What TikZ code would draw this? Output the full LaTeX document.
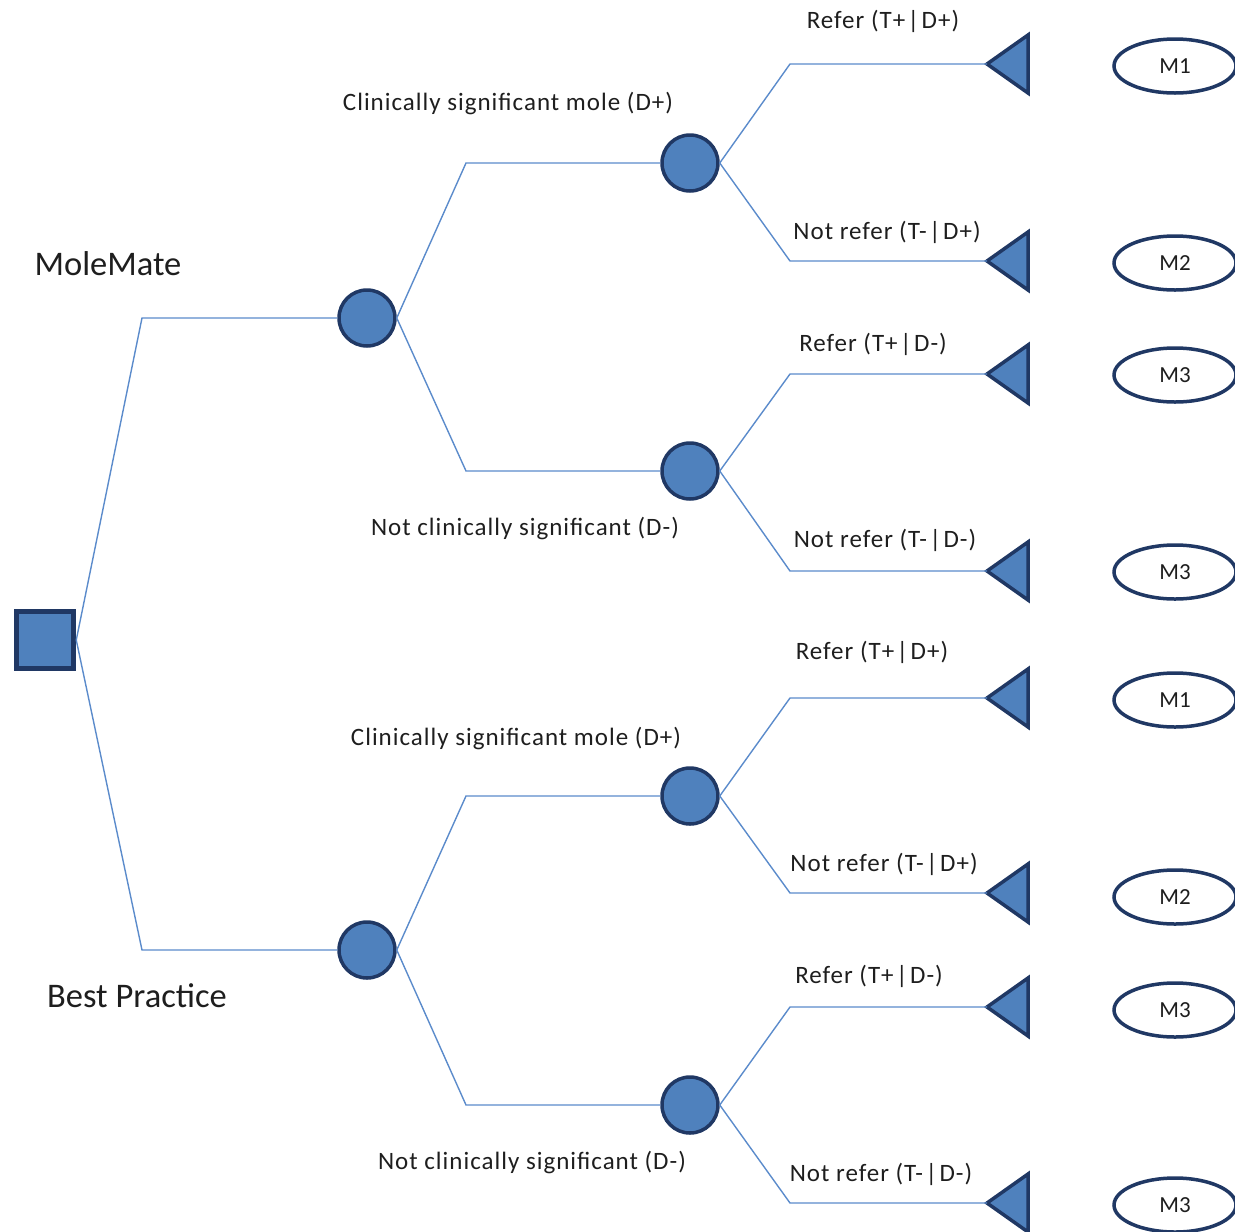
\documentclass[tikz,border=0pt]{standalone}
\usepackage{fontspec}
\setmainfont{Carlito}
\newfontfamily\lblfont[LetterSpace=4]{Carlito}
\usetikzlibrary{shapes.geometric}
\definecolor{fillblue}{HTML}{4F81BD}
\definecolor{darkblue}{HTML}{203864}
\definecolor{lineblue}{HTML}{5B8BCB}
\definecolor{textgray}{HTML}{1E1E1E}
\newcommand{\vsep}{\kern2.5pt|\kern2.5pt}
\begin{document}
\begin{tikzpicture}[x=1pt,y=-1pt,
  conn/.style={draw=lineblue, line width=1.4pt},
  chance/.style={circle, fill=fillblue, draw=darkblue, line width=3.5pt, minimum size=56pt, inner sep=0pt},
  decision/.style={rectangle, fill=fillblue, draw=darkblue, line width=5.5pt, minimum size=57pt, inner sep=0pt},
  termtri/.style={fill=fillblue, draw=darkblue, line width=3.5pt, line join=miter},
  outcome/.style={ellipse, draw=darkblue, line width=3.5pt, fill=white, minimum width=122pt, minimum height=54pt, inner sep=0pt, text=textgray, font=\fontsize{23}{27}\selectfont},
  lbl/.style={font=\lblfont\fontsize{25}{30}\selectfont, text=textgray, inner sep=0pt},
  biglbl/.style={font=\fontsize{34.5}{40}\selectfont, text=textgray, inner sep=0pt}
]
\useasboundingbox (0,0) rectangle (1235,1232);

% decision node
\node[decision] (sq) at (45,640) {};

% chance nodes
\node[chance] (c1) at (367,318) {};
\node[chance] (c2) at (367,950) {};
\node[chance] (c11) at (690,163) {};
\node[chance] (c12) at (690,471) {};
\node[chance] (c21) at (690,796) {};
\node[chance] (c22) at (690,1105) {};

% elbow coordinates
\coordinate (a1) at (142,318);
\coordinate (a2) at (142,950);
\coordinate (b11) at (466,163);
\coordinate (b12) at (466,471);
\coordinate (b21) at (466,796);
\coordinate (b22) at (466,1105);
\coordinate (e1) at (790,64);
\coordinate (e2) at (790,261);
\coordinate (e3) at (790,374);
\coordinate (e4) at (790,571);
\coordinate (e5) at (790,698);
\coordinate (e6) at (790,893);
\coordinate (e7) at (790,1007);
\coordinate (e8) at (790,1203);

% terminal triangles (apex coordinates)
\foreach \i/\y in {1/64,2/261,3/374,4/571,5/698,6/893,7/1007,8/1203}{
  \coordinate (t\i) at (987,\y);
  \draw[termtri] (t\i) -- ++(41,-29) -- ++(0,58) -- cycle;
}

% outcome ellipses
\node[outcome] (m1) at (1175,66) {M1};
\node[outcome] (m2) at (1175,263) {M2};
\node[outcome] (m3) at (1175,375) {M3};
\node[outcome] (m4) at (1175,572) {M3};
\node[outcome] (m5) at (1175,700) {M1};
\node[outcome] (m6) at (1175,897) {M2};
\node[outcome] (m7) at (1175,1010) {M3};
\node[outcome] (m8) at (1175,1205) {M3};

% connectors
\draw[conn] (sq.east) -- (a1) -- (c1.west);
\draw[conn] (sq.east) -- (a2) -- (c2.west);
\draw[conn] (c1.east) -- (b11) -- (c11.west);
\draw[conn] (c1.east) -- (b12) -- (c12.west);
\draw[conn] (c2.east) -- (b21) -- (c21.west);
\draw[conn] (c2.east) -- (b22) -- (c22.west);
\draw[conn] (c11.east) -- (e1) -- (t1);
\draw[conn] (c11.east) -- (e2) -- (t2);
\draw[conn] (c12.east) -- (e3) -- (t3);
\draw[conn] (c12.east) -- (e4) -- (t4);
\draw[conn] (c21.east) -- (e5) -- (t5);
\draw[conn] (c21.east) -- (e6) -- (t6);
\draw[conn] (c22.east) -- (e7) -- (t7);
\draw[conn] (c22.east) -- (e8) -- (t8);

% labels
\node[biglbl] (lmm) at (108,264) {MoleMate};
\node[biglbl] (lbp) at (137,996) {Best Practice};
\node[lbl] (l1) at (508,104) {Clinically significant mole (D+)};
\node[lbl] (l2) at (525,528) {Not clinically significant (D-)};
\node[lbl] (l3) at (516,738) {Clinically significant mole (D+)};
\node[lbl] (l4) at (532,1162) {Not clinically significant (D-)};
\node[lbl] (r1) at (883,21) {Refer (T+\vsep D+)};
\node[lbl] (r2) at (887,232) {Not refer (T-\vsep D+)};
\node[lbl] (r3) at (873,344) {Refer (T+\vsep D-)};
\node[lbl] (r4) at (885,540) {Not refer (T-\vsep D-)};
\node[lbl] (r5) at (872,652) {Refer (T+\vsep D+)};
\node[lbl] (r6) at (884,864) {Not refer (T-\vsep D+)};
\node[lbl] (r7) at (869,976) {Refer (T+\vsep D-)};
\node[lbl] (r8) at (881,1174) {Not refer (T-\vsep D-)};
\end{tikzpicture}
\end{document}
